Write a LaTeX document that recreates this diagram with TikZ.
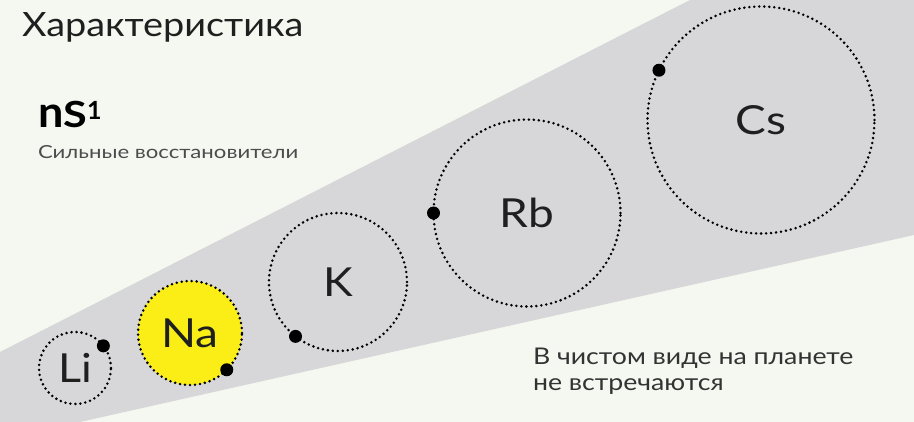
\documentclass[tikz,border=0pt]{standalone}
\usepackage{fontspec}
\setmainfont{Lato}
\begin{document}
\begin{tikzpicture}[x=1pt,y=-1pt,
  atom/.style={circle, draw=black, line width=2.8pt, dash pattern=on 0pt off 5pt, line cap=round, inner sep=0pt, outer sep=0pt, text=black!88, font=\fontsize{40}{40}\selectfont},
  electron/.style={circle, fill=black, inner sep=0pt, outer sep=0pt, minimum size=13pt},
  lbl/.style={anchor=base west, inner sep=0pt, outer sep=0pt}]
\definecolor{bgc}{RGB}{244,248,240}
\definecolor{wedgec}{RGB}{215,214,216}
\definecolor{nayellow}{RGB}{250,238,22}
\newcommand{\wide}[2]{\scalebox{#1}[1]{#2}}
\useasboundingbox (0,0) rectangle (914,422);
\fill[bgc] (0,0) rectangle (914,422);
\fill[wedgec] (0,352) -- (690,0) -- (914,0) -- (914,235) -- (80,422) -- (0,422) -- cycle;

\node[lbl, text=black!88, font=\fontsize{33.5}{40}\selectfont] (title) at (22,37) {\wide{1.13}{Характеристика}};
\node[lbl, text=black, font=\fontsize{36}{40}\selectfont\bfseries] (ns) at (38,128) {\scalebox{1.25}[1.2]{n}\wide{1.2}{S}\raisebox{8pt}{\fontsize{25}{25}\selectfont\bfseries 1}};
\node[lbl, text=black!70, font=\fontsize{18}{22}\selectfont] (strong) at (38,159) {\wide{1.23}{Сильные восстановители}};
\node[lbl, text=black!80, font=\fontsize{23}{25}\selectfont] (rare1) at (533,365) {\wide{1.16}{В чистом виде на планете}};
\node[lbl, text=black!80, font=\fontsize{23}{25}\selectfont] (rare2) at (533,390) {\wide{1.16}{не встречаются}};

\node[atom, minimum size=72pt] (li) at (75,368) {\wide{1.12}{Li}};
\node[atom, minimum size=104pt, fill=nayellow] (na) at (190,333) {\wide{1.15}{Na}};
\node[atom, minimum size=138pt] (k) at (338,282) {\wide{1.12}{K}};
\node[atom, minimum size=187pt] (rb) at (527,213) {\wide{1.15}{Rb}};
\node[atom, minimum size=227pt] (cs) at (761,120) {\wide{1.15}{Cs}};

\node[electron] (eli) at (li.38) {};
\node[electron] (ena) at (na.-45) {};
\node[electron] (ek) at (k.232) {};
\node[electron] (erb) at (rb.180) {};
\node[electron] (ecs) at (cs.154) {};
\end{tikzpicture}
\end{document}
